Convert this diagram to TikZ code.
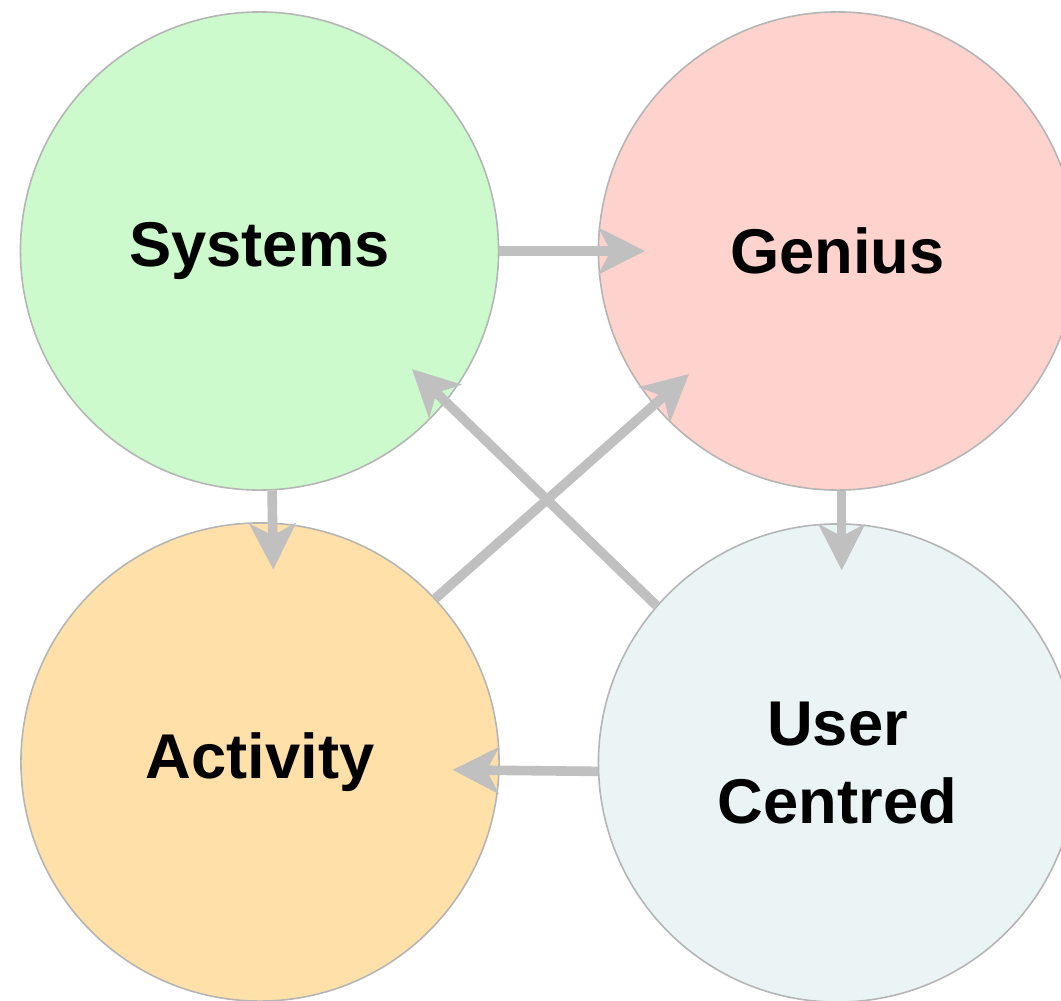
\documentclass[tikz,border=0pt]{standalone}
\usepackage{fontspec}
\setmainfont{Liberation Sans}
\usetikzlibrary{arrows.meta}

\definecolor{sysgreen}{HTML}{CCFACC}
\definecolor{genred}{HTML}{FFD3CD}
\definecolor{actorange}{HTML}{FFE0A9}
\definecolor{usrblue}{HTML}{EAF4F5}
\definecolor{rimgray}{HTML}{B5B5B5}
\definecolor{linkgray}{HTML}{C0C0C0}

\begin{document}
\begin{tikzpicture}[x=0.025cm,y=-0.025cm,
  bubble/.style={circle,draw=rimgray,line width=0.04cm,minimum size=11.95cm,
    inner sep=0pt,align=center,font=\bfseries\fontsize{45}{56}\selectfont},
  link/.style={draw=linkgray,line width=0.24cm,
    -{Stealth[length=1.15cm,width=1.15cm,inset=0.3cm]},shorten >=-1.18cm}]
\useasboundingbox (0,0) rectangle (1061,1001);
% the four circles
\node[bubble,fill=sysgreen] (sys) at (259.5,251) {Systems};
\node[bubble,fill=genred] (gen) at (837.5,251) {Genius};
\node[bubble,fill=actorange] (act) at (260,762) {Activity};
\node[bubble,fill=usrblue] (usr) at (837.5,763) {User\\Centred};
% arrows between them
\draw[link] (sys.east) -- (gen.west);
\draw[link] (sys.273) -- (act.87);
\draw[link] (gen.271) -- (usr.89);
\draw[link] (usr.182) -- (act.-2);
\draw[link] (act.43) -- (gen.220);
\draw[link] (usr.139) -- (sys.321);
\end{tikzpicture}
\end{document}
